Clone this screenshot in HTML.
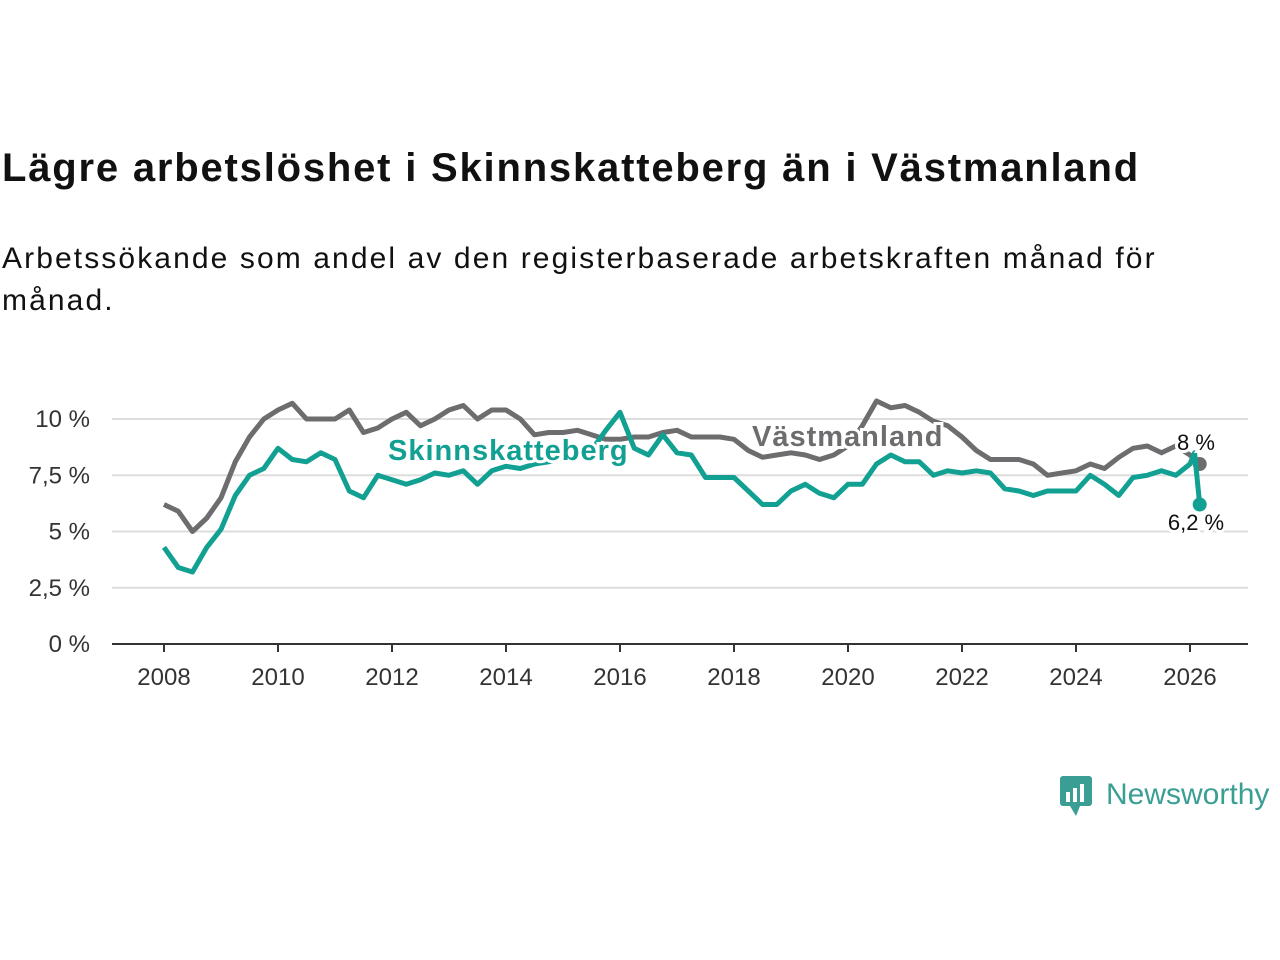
<!DOCTYPE html>
<html><head><meta charset="utf-8"><style>
body{margin:0;background:#fff;width:1280px;height:960px;overflow:hidden;font-family:"Liberation Sans","DejaVu Sans",sans-serif;color:#111}
#title{position:absolute;left:2px;top:146px;font-size:40px;font-weight:bold;margin:0;letter-spacing:1.8px}
#sub{position:absolute;left:2px;top:238px;font-size:30px;line-height:42px;width:1200px;letter-spacing:2.1px}
svg{position:absolute;left:0;top:0}
</style></head><body>
<h1 id="title">Lägre arbetslöshet i Skinnskatteberg än i Västmanland</h1>
<div id="sub">Arbetssökande som andel av den registerbaserade arbetskraften månad för månad.</div>
<svg id="chart" width="1280" height="960"></svg>
<div style="position:absolute;left:1058px;top:772px;display:flex;align-items:center">
<svg width="36" height="46" style="position:static"><rect x="2" y="4" width="32" height="30" rx="3" fill="#3a9e94"/><path d="M12 34 L18 44 L22 34Z" fill="#3a9e94"/><rect x="8" y="20" width="4" height="10" fill="#fff"/><rect x="15" y="16" width="4" height="14" fill="#fff"/><rect x="22" y="12" width="4" height="18" fill="#fff"/></svg>
<span style="font-size:30px;color:#3a9e94;margin-left:12px">Newsworthy</span></div>
<script>
const years=[2008,2008.25,2008.5,2008.75,2009,2009.25,2009.5,2009.75,2010,2010.25,2010.5,2010.75,2011,2011.25,2011.5,2011.75,2012,2012.25,2012.5,2012.75,2013,2013.25,2013.5,2013.75,2014,2014.25,2014.5,2014.75,2015,2015.25,2015.5,2015.75,2016,2016.25,2016.5,2016.75,2017,2017.25,2017.5,2017.75,2018,2018.25,2018.5,2018.75,2019,2019.25,2019.5,2019.75,2020,2020.25,2020.5,2020.75,2021,2021.25,2021.5,2021.75,2022,2022.25,2022.5,2022.75,2023,2023.25,2023.5,2023.75,2024,2024.25,2024.5,2024.75,2025,2025.25,2025.5,2025.75,2026,2026.08,2026.17];
const vastmanland=[6.2,5.9,5.0,5.6,6.5,8.1,9.2,10.0,10.4,10.7,10.0,10.0,10.0,10.4,9.4,9.6,10.0,10.3,9.7,10.0,10.4,10.6,10.0,10.4,10.4,10.0,9.3,9.4,9.4,9.5,9.3,9.1,9.1,9.2,9.2,9.4,9.5,9.2,9.2,9.2,9.1,8.6,8.3,8.4,8.5,8.4,8.2,8.4,8.8,9.7,10.8,10.5,10.6,10.3,9.9,9.7,9.2,8.6,8.2,8.2,8.2,8.0,7.5,7.6,7.7,8.0,7.8,8.3,8.7,8.8,8.5,8.8,8.4,8.2,8.0];
const skinnskatteberg=[4.3,3.4,3.2,4.3,5.1,6.6,7.5,7.8,8.7,8.2,8.1,8.5,8.2,6.8,6.5,7.5,7.3,7.1,7.3,7.6,7.5,7.7,7.1,7.7,7.9,7.8,8.0,8.1,8.3,8.4,8.6,9.5,10.3,8.7,8.4,9.3,8.5,8.4,7.4,7.4,7.4,6.8,6.2,6.2,6.8,7.1,6.7,6.5,7.1,7.1,8.0,8.4,8.1,8.1,7.5,7.7,7.6,7.7,7.6,6.9,6.8,6.6,6.8,6.8,6.8,7.5,7.1,6.6,7.4,7.5,7.7,7.5,8.0,8.5,6.2];
const yTicks=[0,2.5,5,7.5,10];
const yTickLabels=["0 %","2,5 %","5 %","7,5 %","10 %"];
const xTicks=[2008,2010,2012,2014,2016,2018,2020,2022,2024,2026];
const NS="http://www.w3.org/2000/svg",svg=document.getElementById('chart');
const X=v=>164+(v-2008)*57, Y=v=>644-v*22.5;
function mk(t,a,p){const e=document.createElementNS(NS,t);for(const k in a)e.setAttribute(k,a[k]);(p||svg).appendChild(e);return e;}
yTicks.forEach((t,i)=>{
 if(t>0){const g=mk('line',{x1:112,x2:1248,y1:Y(t),y2:Y(t),stroke:'#ddd','stroke-width':2});
 
 }
 const l=mk('text',{x:90,y:Y(t)+8,'text-anchor':'end','font-size':24,fill:'#333'});l.textContent=yTickLabels[i];
 
 
});
const ax=mk('line',{x1:112,x2:1248,y1:644,y2:644,stroke:'#333','stroke-width':2});


xTicks.forEach(t=>{
 mk('line',{x1:X(t),x2:X(t),y1:644,y2:652,stroke:'#333','stroke-width':2});
 const l=mk('text',{x:X(t),y:685,'text-anchor':'middle','font-size':24,fill:'#333'});l.textContent=t;
 
 
});
function line(vals,col,name){
 const p=mk('path',{d:vals.map((v,i)=>(i?'L':'M')+X(years[i]).toFixed(1)+' '+Y(v).toFixed(1)).join(''),fill:'none',stroke:col,'stroke-width':5,'stroke-linejoin':'round'});
 
 
 const n=vals.length-1;
 const c=mk('circle',{cx:X(years[n]),cy:Y(vals[n]),r:7,fill:col});
 
 
}
line(vastmanland,'#6d6c6e','vastmanland-line');
line(skinnskatteberg,'#11a092','skinnskatteberg-line');
function lab(txt,x,y,col,size,weight,name,anchor,ls){
 const a={x:x,y:y,'font-size':size,'font-weight':weight,fill:col,stroke:'#fff','stroke-width':6,'paint-order':'stroke','text-anchor':anchor||'start','letter-spacing':ls||0};
 const t=mk('text',a);t.textContent=txt;
 
 
}
lab('Skinnskatteberg',388,460,'#11a092',29,'bold','skinnskatteberg-label','start',1);
lab('Västmanland',752,446,'#6d6c6e',29,'bold','vastmanland-label','start',1);
lab('8 %',1196,450,'#111',22,'normal','vastmanland-value','middle');
lab('6,2 %',1196,530,'#111',22,'normal','skinnskatteberg-value','middle');
</script>
</body></html>
